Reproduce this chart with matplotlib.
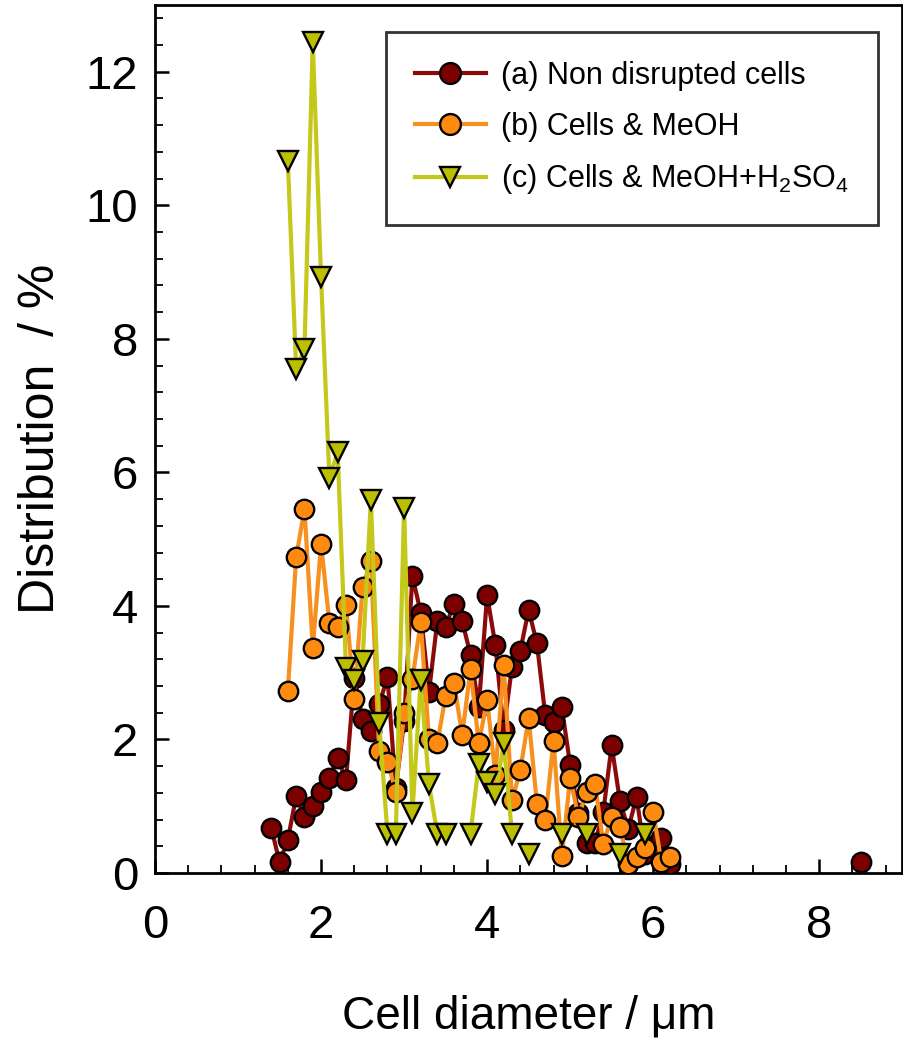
import numpy as np
import matplotlib
matplotlib.use('Agg')
import matplotlib.pyplot as plt
from matplotlib import font_manager
from matplotlib.ticker import MultipleLocator

# pick a narrow sans font if available
names = set(f.name for f in font_manager.fontManager.ttflist)
fam = 'Liberation Sans Narrow' if 'Liberation Sans Narrow' in names else 'Liberation Sans'
plt.rcParams['font.family'] = [fam, 'DejaVu Sans']
plt.rcParams['mathtext.fontset'] = 'custom'
plt.rcParams['mathtext.rm'] = fam

# (a) Non disrupted cells
xa = [1.4, 1.5, 1.6, 1.7, 1.8, 1.9, 2.0, 2.1, 2.2, 2.3, 2.4, 2.5, 2.6, 2.7, 2.8, 2.9,
      3.0, 3.1, 3.2, 3.3, 3.4, 3.5, 3.6, 3.7, 3.8, 3.9, 4.0, 4.1, 4.2, 4.3, 4.4, 4.5,
      4.6, 4.7, 4.8, 4.9, 5.0, 5.1, 5.2, 5.3, 5.4, 5.5, 5.6, 5.7, 5.8, 5.9, 6.0, 6.1,
      6.2, 6.3, 8.5]
ya = [0.68, 0.16, 0.50, 1.15, 0.84, 1.00, 1.21, 1.42, 1.73, 1.39, 2.92, 2.31, 2.13, 2.53, 2.93, 1.27,
      2.27, 4.45, 3.90, 2.71, 3.77, 3.69, 4.03, 3.77, 3.27, 2.49, 4.16, 3.41, 2.14, 3.09, 3.33, 3.94,
      3.44, 2.37, 2.26, 2.48, 1.62, 0.90, 0.45, 0.45, 0.92, 1.91, 1.08, 0.66, 1.14, 0.28, 0.40, 0.52,
      0.14, np.nan, 0.16]

# (b) Cells & MeOH
xb = [1.6, 1.7, 1.8, 1.9, 2.0, 2.1, 2.2, 2.3, 2.4, 2.5, 2.6, 2.7, 2.8, 2.9, 3.0, 3.1,
      3.2, 3.3, 3.4, 3.5, 3.6, 3.7, 3.8, 3.9, 4.0, 4.1, 4.2, 4.3, 4.4, 4.5, 4.6, 4.7,
      4.8, 4.9, 5.0, 5.1, 5.2, 5.3, 5.4, 5.5, 5.6, 5.7, 5.8, 5.9, 6.0, 6.1, 6.2]
yb = [2.73, 4.73, 5.45, 3.37, 4.93, 3.75, 3.68, 4.02, 2.61, 4.28, 4.67, 1.82, 1.67, 1.22, 2.39, 2.90,
      3.76, 2.00, 1.94, 2.65, 2.85, 2.07, 3.05, 1.94, 2.59, 1.47, 3.12, 1.09, 1.54, 2.32, 1.04, 0.79,
      1.98, 0.25, 1.42, 0.84, 1.22, 1.34, 0.44, 0.84, 0.69, 0.14, 0.24, 0.37, 0.92, 0.16, 0.24]

# (c) Cells & MeOH+H2SO4 (gaps where no value)
xc = [1.6, 1.7, 1.8, 1.9, 2.0, 2.1, 2.2, 2.3, 2.4, 2.5, 2.6, 2.7, 2.8, 2.9, 3.0, 3.1,
      3.2, 3.3, 3.4, 3.5, 3.6, 3.7, 3.8, 3.9, 4.0, 4.1, 4.2, 4.3, 4.4, 4.5, 4.6, 4.7,
      4.8, 4.9, 5.0, 5.1, 5.2, 5.3, 5.4, 5.5, 5.6, 5.7, 5.8, 5.9]
yc = [10.66, 7.55, 7.85, 12.45, 8.92, 5.92, 6.30, 3.07, 2.89, 3.18, 5.59, 2.25, 0.59, 0.59, 5.47, 0.90,
      2.89, 1.33, 0.59, 0.59, np.nan, np.nan, 0.59, 1.64, 1.37, 1.19, 1.94, 0.59, np.nan, 0.28, np.nan, np.nan,
      np.nan, 0.59, np.nan, np.nan, 0.59, np.nan, np.nan, np.nan, 0.29, np.nan, np.nan, 0.59]

labels = ['(a) Non disrupted cells', '(b) Cells & MeOH',
          r'(c) Cells & MeOH+H$_2$SO$_4$']

fig = plt.figure(figsize=(9.04, 10.54), dpi=100)
ax = fig.add_axes([0.1715, 0.1717, 0.8265, 0.8236])

ax.plot(xa, ya, color='#8b0a0a', lw=3, marker='o', ms=14, mfc='#7d0000',
        mec='black', mew=1.7, label=labels[0], zorder=3)
ax.plot(xb, yb, color='#f7901e', lw=3, marker='o', ms=14, mfc='#ff8a10',
        mec='black', mew=1.7, label=labels[1], zorder=4)
ax.plot(xc, yc, color='#c3c81a', lw=3, marker='v', ms=14, mfc='#bcbf00',
        mec='black', mew=1.7, label=labels[2], zorder=5)

ax.set_xlim(0, 9)
ax.set_ylim(0, 13)
ax.xaxis.set_major_locator(MultipleLocator(2))
ax.xaxis.set_minor_locator(MultipleLocator(0.4))
ax.yaxis.set_major_locator(MultipleLocator(2))
ax.yaxis.set_minor_locator(MultipleLocator(0.4))
ax.tick_params(which='both', direction='in', top=False, right=False, width=1.8)
ax.tick_params(which='major', length=10)
ax.tick_params(which='minor', length=6, width=1.3)
ax.tick_params(axis='x', which='major', labelsize=34, pad=22)
ax.tick_params(axis='y', which='major', labelsize=34, pad=12)
for s in ax.spines.values():
    s.set_linewidth(2)

ax.set_xlabel('Cell diameter / μm', fontsize=33, labelpad=34)
ax.set_ylabel('Distribution  / %', fontsize=36, labelpad=16)

leg = ax.legend(loc='upper right', bbox_to_anchor=(0.967, 0.969), borderaxespad=0,
                fontsize=22, frameon=True, fancybox=False, edgecolor='black',
                handlelength=2.3, labelspacing=0.68, borderpad=0.95, handletextpad=0.5)
leg.get_frame().set_linewidth(2)
for h in leg.legend_handles:
    h.set_markersize(15)

fig.savefig('out.png', dpi=100)
